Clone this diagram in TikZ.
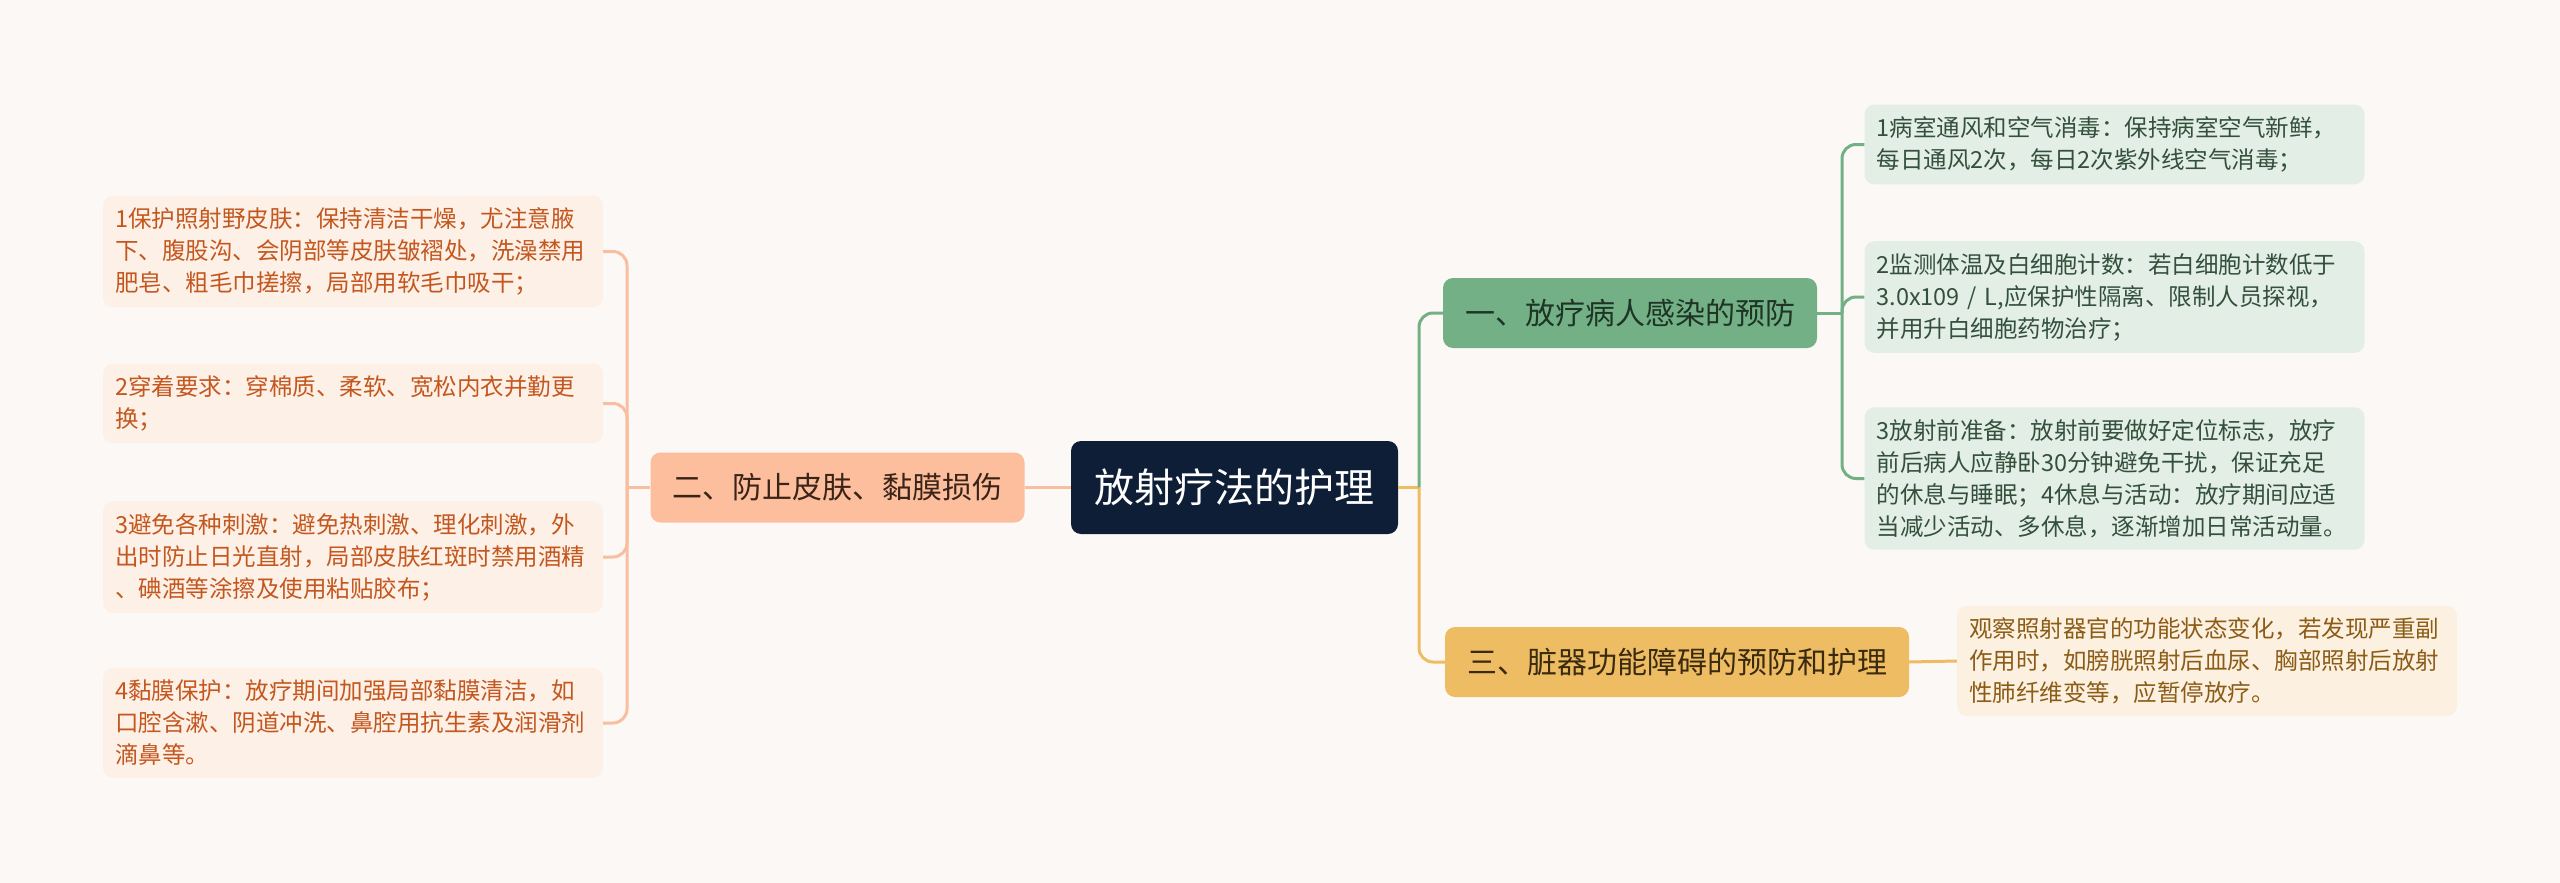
\documentclass[tikz,border=0pt]{standalone}
\usepackage{fontspec}
\setmainfont{Noto Sans CJK SC}
\usetikzlibrary{positioning}
\definecolor{bgColor}{HTML}{FCF8F6}
\definecolor{rootColor}{HTML}{0E1E36}
\definecolor{skinColor}{HTML}{FDBE9D}
\definecolor{skinLineColor}{HTML}{F8BE9F}
\definecolor{skinLeafColor}{HTML}{FDF0E7}
\definecolor{skinTextColor}{HTML}{C4571E}
\definecolor{skinHeadColor}{HTML}{3A2418}
\definecolor{infectColor}{HTML}{73B086}
\definecolor{infectLeafColor}{HTML}{E3EFE6}
\definecolor{infectTextColor}{HTML}{34503D}
\definecolor{infectHeadColor}{HTML}{1E3526}
\definecolor{organColor}{HTML}{EEBC62}
\definecolor{organLeafColor}{HTML}{FCF1E1}
\definecolor{organTextColor}{HTML}{8C5C17}
\definecolor{organHeadColor}{HTML}{3A2A0E}

\tikzset{
  rootbox/.style={fill=rootColor, text=white, rounded corners=10pt,
    minimum width=327pt, minimum height=93pt, font=\fontsize{40}{48}\selectfont},
  branch/.style={rounded corners=10pt, inner xsep=22pt, minimum height=70pt,
    font=\fontsize{30}{36}\selectfont},
  leaf/.style={rounded corners=10pt, text width=476pt, align=left,
    inner xsep=12pt, inner ysep=12pt, font=\fontsize{23.5}{32}\selectfont},
  link/.style={line width=3pt, rounded corners=14pt},
}

\begin{document}
\begin{tikzpicture}[x=1pt,y=-1pt]
  \fill[bgColor] (0,0) rectangle (2560,883);
  \useasboundingbox (0,0) rectangle (2560,883);

  \node[rootbox] (root) at (1234.5,487.5) {放射疗法的护理};

  % left: skin
  \node[branch, fill=skinColor, text=skinHeadColor] (skin) at (837.5,487.5) {二、防止皮肤、黏膜损伤};
  \node[leaf, fill=skinLeafColor, text=skinTextColor] (s1) at (353,251.5)
    {1保护照射野皮肤：保持清洁干燥，尤注意腋\\下、腹股沟、会阴部等皮肤皱褶处，洗澡禁用\\肥皂、粗毛巾搓擦，局部用软毛巾吸干；};
  \node[leaf, fill=skinLeafColor, text=skinTextColor] (s2) at (353,403.5)
    {2穿着要求：穿棉质、柔软、宽松内衣并勤更\\换；};
  \node[leaf, fill=skinLeafColor, text=skinTextColor] (s3) at (353,557)
    {3避免各种刺激：避免热刺激、理化刺激，外\\出时防止日光直射，局部皮肤红斑时禁用酒精\\、碘酒等涂擦及使用粘贴胶布；};
  \node[leaf, fill=skinLeafColor, text=skinTextColor] (s4) at (353,723)
    {4黏膜保护：放疗期间加强局部黏膜清洁，如\\口腔含漱、阴道冲洗、鼻腔用抗生素及润滑剂\\滴鼻等。};
  \coordinate (sj) at (627,487.5);
  \draw[link, skinLineColor] (root.west) -- (skin.east);
  \draw[link, skinLineColor] (skin.west) -- (sj);
  \foreach \n in {s1,s2,s3,s4}
    \draw[link, skinLineColor] (sj) |- (\n.east);

  % right: infection
  \node[branch, fill=infectColor, text=infectHeadColor] (infect) at (1630,313) {一、放疗病人感染的预防};
  \node[leaf, fill=infectLeafColor, text=infectTextColor] (i1) at (2114.5,144.5)
    {1病室通风和空气消毒：保持病室空气新鲜，\\每日通风2次，每日2次紫外线空气消毒；};
  \node[leaf, fill=infectLeafColor, text=infectTextColor] (i2) at (2114.5,297)
    {2监测体温及白细胞计数：若白细胞计数低于\\3.0x109 / L,应保护性隔离、限制人员探视，\\并用升白细胞药物治疗；};
  \node[leaf, fill=infectLeafColor, text=infectTextColor] (i3) at (2114.5,478.5)
    {3放射前准备：放射前要做好定位标志，放疗\\前后病人应静卧30分钟避免干扰，保证充足\\的休息与睡眠；4休息与活动：放疗期间应适\\当减少活动、多休息，逐渐增加日常活动量。};

  % right: organs
  \node[branch, fill=organColor, text=organHeadColor] (organ) at (1677,662) {三、脏器功能障碍的预防和护理};
  \node[leaf, fill=organLeafColor, text=organTextColor] (o1) at (2207,661)
    {观察照射器官的功能状态变化，若发现严重副\\作用时，如膀胱照射后血尿、胸部照射后放射\\性肺纤维变等，应暂停放疗。};

  \coordinate (rj) at (1419,487.5);
  \draw[link, organColor] (root.east) -- (rj);
  \draw[link, infectColor] (rj) |- (infect.west);
  \draw[link, organColor] (rj) |- (organ.west);
  \coordinate (ij) at (1842,313);
  \draw[link, infectColor] (infect.east) -- (ij);
  \foreach \n in {i1,i2,i3}
    \draw[link, infectColor] (ij) |- (\n.west);
  \draw[link, organColor] (organ.east) -- (o1.west);
\end{tikzpicture}
\end{document}
